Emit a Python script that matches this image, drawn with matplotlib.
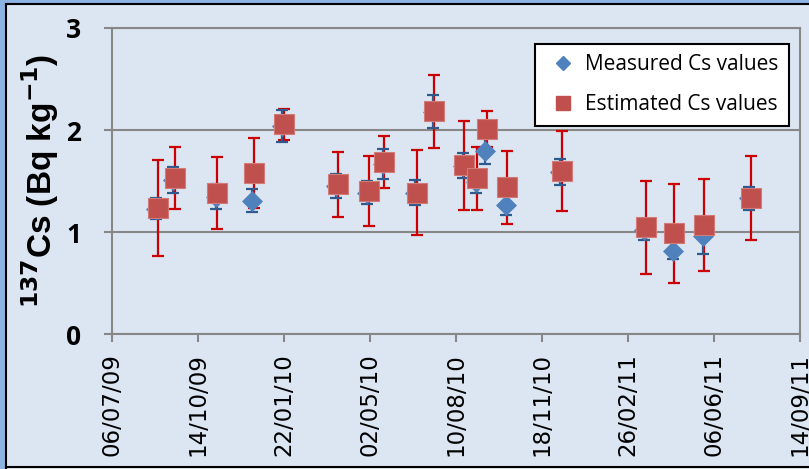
import datetime as dt
import matplotlib
matplotlib.use("Agg")
import matplotlib.pyplot as plt
import matplotlib.dates as mdates
from matplotlib.lines import Line2D
from matplotlib.patches import Rectangle

# ---- data -------------------------------------------------------------
est_dates = ["2009-08-29", "2009-09-18", "2009-11-06", "2009-12-18", "2010-01-22",
             "2010-03-26", "2010-05-01", "2010-05-19", "2010-06-26", "2010-07-16",
             "2010-08-20", "2010-09-04", "2010-09-15", "2010-10-09", "2010-12-11",
             "2011-03-19", "2011-04-21", "2011-05-26", "2011-07-19"]
est_values = [1.235, 1.533, 1.382, 1.578, 2.058, 1.467, 1.402, 1.690, 1.386, 2.183,
              1.654, 1.526, 2.010, 1.438, 1.595, 1.046, 0.987, 1.069, 1.333]
est_errors = [0.467, 0.305, 0.350, 0.340, 0.152, 0.320, 0.343, 0.255, 0.420, 0.356,
              0.435, 0.310, 0.176, 0.360, 0.394, 0.458, 0.487, 0.453, 0.410]

meas_dates = ["2009-08-27", "2009-09-16", "2009-11-04", "2009-12-16", "2010-01-20",
              "2010-03-24", "2010-04-29", "2010-05-17", "2010-06-24", "2010-07-14",
              "2010-08-18", "2010-09-02", "2010-09-13", "2010-10-07", "2010-12-09",
              "2011-03-17", "2011-04-19", "2011-05-24", "2011-07-17"]
meas_values = [1.230, 1.510, 1.348, 1.307, 2.040, 1.450, 1.385, 1.665, 1.385, 2.180,
               1.650, 1.490, 1.797, 1.262, 1.590, 1.020, 0.817, 0.960, 1.330]
meas_errors = [0.105, 0.130, 0.120, 0.110, 0.160, 0.120, 0.115, 0.145, 0.120, 0.160,
               0.120, 0.110, 0.130, 0.095, 0.130, 0.100, 0.085, 0.175, 0.115]

tick_start = "2009-07-06"
tick_step_days = 100
n_ticks = 9
y_ticks = [0, 1, 2, 3]

# ---- styling ----------------------------------------------------------
BG = "#DCE6F2"
STRIPE = "#8DB3E2"
GRID = "#878787"
SQ = "#C0504D"
DIA = "#4F81BD"
RED_ERR = "#CC0000"
BLUE_ERR = "#2E5A8E"

W, H = 809, 469
fig = plt.figure(figsize=(W / 100, H / 100), dpi=100, facecolor=BG)

# frame decoration around the figure
fig.patches.append(Rectangle((0, 0), 5.3 / W, 1, transform=fig.transFigure,
                             facecolor=STRIPE, edgecolor="none", zorder=0))
fig.patches.append(Rectangle((0, 1 - 3.2 / H), 1, 3.2 / H, transform=fig.transFigure,
                             facecolor=STRIPE, edgecolor="none", zorder=0))
for xs, ys in [([6.3 / W, 6.3 / W], [1.5 / H, 1 - 4.2 / H]),
               ([6.3 / W, 1], [1 - 4.2 / H, 1 - 4.2 / H]),
               ([6.3 / W, 1], [1.6 / H, 1.6 / H])]:
    fig.add_artist(Line2D(xs, ys, transform=fig.transFigure, color="black", lw=1.5))

ax = fig.add_axes([111.5 / W, (H - 334) / H, (800 - 111.5) / W, (334 - 28) / H])
ax.set_facecolor(BG)

to_num = lambda ds: [mdates.date2num(dt.datetime.strptime(d, "%Y-%m-%d")) for d in ds]
xe = to_num(est_dates)
xm = to_num(meas_dates)

start = dt.datetime.strptime(tick_start, "%Y-%m-%d")
xticks = [mdates.date2num(start + dt.timedelta(days=tick_step_days * k)) for k in range(n_ticks)]

ax.errorbar(xe, est_values, yerr=est_errors, fmt="none", ecolor=RED_ERR,
            elinewidth=1.6, capsize=4.0, capthick=1.6, zorder=2)
ax.errorbar(xm, meas_values, yerr=meas_errors, fmt="none", ecolor=BLUE_ERR,
            elinewidth=1.6, capsize=4.3, capthick=1.6, zorder=3)
ax.plot(xm, meas_values, linestyle="none", marker="D", markersize=10.2,
        markerfacecolor=DIA, markeredgecolor=DIA, markeredgewidth=0.5, zorder=4)
ax.plot(xe, est_values, linestyle="none", marker="s", markersize=14.3,
        markerfacecolor=SQ, markeredgecolor="#D27A77", markeredgewidth=0.8, zorder=5)

ax.set_xlim(xticks[0], xticks[-1])
ax.set_xticks(xticks)
ax.xaxis.set_major_formatter(mdates.DateFormatter("%d/%m/%y"))
ax.set_ylim(0, 3)
ax.set_yticks(y_ticks)

ax.yaxis.grid(True, color=GRID, lw=1.5, zorder=1)
ax.set_axisbelow(True)
for sp in ax.spines.values():
    sp.set_color(GRID)
    sp.set_linewidth(1.5)

ax.tick_params(axis="x", direction="out", length=6, width=1.5, color=GRID,
               pad=8, labelrotation=90, labelsize=16.5)
ax.tick_params(axis="y", direction="out", length=6, width=1.5, color=GRID, pad=16)
for lab in ax.get_xticklabels():
    lab.set_fontfamily("DejaVu Sans")
for lab in ax.get_yticklabels():
    lab.set_fontfamily("Open Sans")
    lab.set_fontweight("bold")
    lab.set_fontsize(19)

plt.rcParams["mathtext.fontset"] = "custom"
plt.rcParams["mathtext.bf"] = "Liberation Sans:bold"
plt.rcParams["mathtext.rm"] = "Liberation Sans"
ax.set_ylabel(r"$\mathbf{^{137}}$Cs (Bq kg$\mathbf{^{-1}}$)", fontfamily="Liberation Sans",
              fontweight="bold", fontsize=24, va="center")
ax.yaxis.set_label_coords((40 - 111.5) / (800 - 111.5), 0.5)

handles = [Line2D([], [], linestyle="none", marker="D", markersize=6.8,
                  markerfacecolor=DIA, markeredgecolor=DIA),
           Line2D([], [], linestyle="none", marker="s", markersize=10,
                  markerfacecolor=SQ, markeredgecolor=SQ)]
leg = ax.legend(handles, ["Measured Cs values", "Estimated Cs values"],
                loc="upper right", bbox_to_anchor=((789 - 111.5) / 688.5, (334 - 44) / 306),
                borderaxespad=0, frameon=True, fancybox=False, shadow=False,
                prop={"family": "Open Sans", "size": 15}, handlelength=1.7,
                handletextpad=0.2, borderpad=0.5, labelspacing=0.9)
leg.get_frame().set_edgecolor("black")
leg.get_frame().set_linewidth(1.5)
leg.get_frame().set_facecolor("white")
leg.get_frame().set_alpha(1)
leg.set_zorder(10)

fig.savefig("out.png", dpi=100, facecolor=BG)
